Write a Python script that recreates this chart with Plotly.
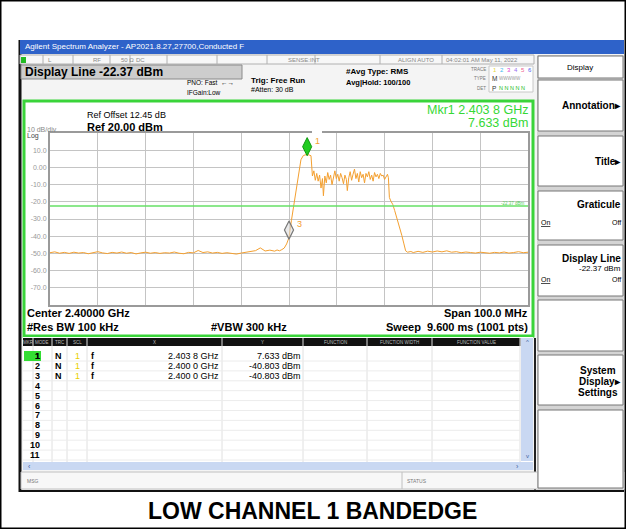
import plotly.graph_objects as go

W, H = 626, 529
FONT = "Liberation Sans, Arial, sans-serif"

# ---------------- data ----------------
freq_mhz = [2350, 2351, 2352, 2353, 2354, 2355, 2356, 2357, 2358, 2359,
            2360, 2361, 2362, 2363, 2364, 2365, 2366, 2367, 2368, 2369,
            2370, 2371, 2372, 2373, 2374, 2375, 2376, 2377, 2378, 2379,
            2380, 2381, 2382, 2383, 2384, 2385, 2386, 2387, 2388, 2389,
            2390, 2391, 2392, 2393, 2394, 2395, 2396, 2397, 2397.5, 2398,
            2398.5, 2399, 2399.5, 2400, 2400.5, 2401, 2401.5, 2402, 2402.5, 2403,
            2403.5, 2403.8, 2404.2, 2404.6, 2404.9, 2405.2, 2405.5, 2405.8, 2406.1, 2406.4,
            2406.7, 2407.0, 2407.2, 2407.5, 2407.8, 2408.1, 2408.4, 2408.7, 2409.0, 2409.3,
            2409.6, 2409.9, 2410.2, 2410.5, 2410.8, 2411.1, 2411.4, 2411.7, 2412.0, 2412.2,
            2412.5, 2412.8, 2413.1, 2413.4, 2413.7, 2414.0, 2414.3, 2414.6, 2414.9, 2415.2,
            2415.5, 2415.8, 2416.1, 2416.4, 2416.7, 2417.0, 2417.3, 2417.6, 2417.9, 2418.2,
            2418.5, 2418.8, 2419.1, 2419.4, 2419.7, 2420.0, 2420.3, 2420.6, 2420.8, 2421.0,
            2421.3, 2421.7, 2422.1, 2422.6, 2423.1, 2423.6, 2424.0, 2424.4, 2424.8, 2425.5,
            2426, 2427, 2428, 2429, 2430, 2431, 2432, 2433, 2434, 2435,
            2436, 2437, 2438, 2439, 2440, 2441, 2442, 2443, 2444, 2445,
            2446, 2447, 2448, 2449, 2450]
level_dbm = [-49.6, -49.1, -49.9, -49.4, -50.0, -49.3, -49.8, -49.5, -50.2, -49.6,
             -49.0, -49.7, -50.1, -49.4, -49.8, -49.2, -49.9, -49.5, -50.3, -49.7,
             -49.3, -49.9, -49.5, -50.0, -49.6, -49.8, -49.2, -49.9, -50.2, -49.4,
             -49.7, -48.3, -49.5, -49.1, -49.8, -49.4, -50.0, -49.6, -49.9, -50.4,
             -49.8, -49.2, -48.9, -48.4, -46.8, -48.6, -48.1, -48.7, -48.0, -48.5,
             -47.8, -46.9, -44.5, -40.8, -31.0, -22.0, -12.5, -2.5, 4.5, 6.9,
             7.3, 7.633, 7.2, 6.8, -5.0, -2.0, -7.5, -3.5, -8.0, -4.5,
             -12.0, -6.5, -16.5, -5.0, -9.0, -3.0, -7.0, -4.5, -10.0, -5.5,
             -2.0, -6.5, -4.0, -8.0, -3.5, -6.0, -9.5, -4.5, -7.0, -13.5,
             -6.0, -2.5, -7.5, -4.0, -1.0, -6.5, -3.5, -8.5, -2.5, -6.0,
             -4.0, -9.0, -3.5, -5.5, -2.5, -7.0, -4.5, -8.0, -3.0, -5.5,
             -4.0, -6.5, -3.5, -5.0, -4.5, -7.0, -5.0, -4.0, -6.0, -17.5,
             -19.5, -21.5, -25.0, -29.5, -34.0, -39.5, -44.0, -48.5, -49.3, -48.9,
             -49.5, -48.8, -49.4, -48.7, -49.2, -48.6, -49.1, -48.5, -49.3, -49.0,
             -49.6, -49.2, -49.5, -49.8, -49.3, -49.6, -49.9, -49.4, -49.7, -49.2,
             -49.8, -49.5, -49.0, -49.6, -49.3]

mkr_num = [1, 2, 3]
mkr_mode = ["N", "N", "N"]
mkr_trc = ["1", "1", "1"]
mkr_scl = ["f", "f", "f"]
mkr_freq_ghz = [2.4038, 2.4000, 2.4000]
mkr_level = [7.633, -40.803, -40.803]

display_line_dbm = -22.37
x_range_ghz = [2.35, 2.45]
y_range_dbm = [-80, 20]
y_tick_vals = [10, 0, -10, -20, -30, -40, -50, -60, -70]
y_tick_text = ["10.0", "0.00", "-10.0", "-20.0", "-30.0", "-40.0", "-50.0", "-60.0", "-70.0"]

window_title = "Agilent Spectrum Analyzer - AP2021.8.27,27700,Conducted F"
chart_caption = "LOW CHANNEL 1 BANDEDGE"

# ---------------- helpers ----------------
def px(x):
    return x / W


def py(y):
    return 1 - y / H


def ghz_str(v):
    s = "%.4f" % v
    return s[:-1] + " " + s[-1]


shapes = []
annotations = []


def rect(x0, y0, x1, y1, fill="rgba(0,0,0,0)", line="rgba(0,0,0,0)", lw=0, layer="below"):
    shapes.append(dict(type="rect", xref="paper", yref="paper",
                       x0=px(x0), x1=px(x1), y0=py(y1), y1=py(y0),
                       fillcolor=fill, line=dict(color=line, width=lw), layer=layer))


def hline(x0, x1, y, color, lw=1, layer="below"):
    shapes.append(dict(type="line", xref="paper", yref="paper",
                       x0=px(x0), x1=px(x1), y0=py(y), y1=py(y),
                       line=dict(color=color, width=lw), layer=layer))


def vline(x, y0, y1, color, lw=1, layer="below"):
    shapes.append(dict(type="line", xref="paper", yref="paper",
                       x0=px(x), x1=px(x), y0=py(y0), y1=py(y1),
                       line=dict(color=color, width=lw), layer=layer))


def txt(x, y, s, size, color="black", bold=False, anchor="left", family=FONT):
    annotations.append(dict(x=px(x), y=py(y), xref="paper", yref="paper",
                            text=("<b>%s</b>" % s) if bold else s, showarrow=False,
                            xanchor=anchor, yanchor="middle", borderpad=0,
                            font=dict(size=size, color=color, family=family)))


# ---------------- frame / window ----------------
rect(0, 0, W, H, fill="white", line="black", lw=3)
rect(20, 40, 624, 492, fill="#f4f4f4")
vline(20, 40, 492, "#111", 3)
hline(20, 624, 491, "#111", 2)
# title bar
rect(20, 40, 624, 54, fill="#2e62c9")
txt(24, 47, window_title, 8, color="white")
# status row
rect(20, 55, 534, 64, fill="#f7f7f7", line="#b0b0b0", lw=1)
rect(21, 57, 26, 63, fill="#22bb22")
for xd in [43, 73, 110, 130, 167, 217, 267, 315, 380, 442]:
    vline(xd, 55, 64, "#b0b0b0")
for xs, s in [(47, "L"), (92, "RF"), (120, "50 Ω"), (135, "DC"), (287, "SENSE:INT"),
              (397, "ALIGN AUTO"), (445, "04:02:01 AM May 11, 2022")]:
    txt(xs, 60, s, 6, color="#888")
# header info
rect(21, 65, 242, 79, fill="#cdcdcd", line="#8a8a8a", lw=1)
txt(24, 72, "Display Line %.2f dBm" % display_line_dbm, 12, bold=True)
txt(186, 83, "PNO: Fast  ←→", 6.5)
txt(186, 92, "IFGain:Low", 6.5)
txt(250, 80, "Trig: Free Run", 8, bold=True)
txt(250, 90, "#Atten: 30 dB", 7)
txt(345, 72, "#Avg Type: RMS", 8, bold=True)
txt(345, 82, "Avg|Hold: 100/100", 7.5, bold=True)
txt(487, 70, "TRACE", 4.5, color="#777", anchor="right")
txt(487, 79, "TYPE", 4.5, color="#777", anchor="right")
txt(487, 88, "DET", 4.5, color="#777", anchor="right")
rect(489, 66, 533, 92, fill="white", line="#c8c8c8", lw=1)
trace_cols = ["#e8d840", "#40b8f0", "#e040d0", "#9a70f0", "#f06090", "#5060f0"]
for i, c in enumerate(trace_cols):
    txt(492 + i * 7, 70, str(i + 1), 6, color=c)
txt(491, 79, "M", 6.5, color="#333")
txt(498, 79, "WWWWW", 4.5, color="#999")
txt(491, 88, "P", 6.5, color="#333")
txt(498, 88, "N N N N N", 5.5, color="#22bb22")

# ---------------- graph frame ----------------
rect(24, 101, 533, 336, fill="white", line="#3ad43a", lw=3)
txt(529, 110, "Mkr1 %s GHz" % ghz_str(mkr_freq_ghz[0]), 12.5,
    color="#35d835", anchor="right")
txt(529, 123, "%.3f dBm" % mkr_level[0], 12.5, color="#35d835", anchor="right")
txt(86, 115, "Ref Offset 12.45 dB", 9)
txt(86, 127, "Ref %.2f dBm" % y_range_dbm[1], 11, bold=True)
txt(26, 129, "10 dB/div", 7, color="#888")
txt(26, 136, "Log", 7, color="#444")
txt(26, 313, "Center %.5f GHz" % (sum(x_range_ghz) / 2), 11, bold=True)
txt(26, 327, "#Res BW 100 kHz", 11, bold=True)
txt(210, 327, "#VBW 300 kHz", 11, bold=True)
txt(529, 313, "Span %.1f MHz" % ((x_range_ghz[1] - x_range_ghz[0]) * 1000), 11, bold=True, anchor="right")
txt(529, 327, "Sweep  9.600 ms (1001 pts)", 11, bold=True, anchor="right")
txt(526, 203, "%.2f dBm" % display_line_dbm, 4.5, color="#55cc55", anchor="right")

# ---------------- marker table ----------------
rect(23, 337, 533, 470, fill="white")
rect(23, 338, 520, 346, fill="#111")
cols = [(23, 33, "MKR"), (33, 52, "MODE"), (52, 67, "TRC"), (67, 87, "SCL"), (87, 222, "X"),
        (222, 303, "Y"), (303, 367, "FUNCTION"), (367, 432, "FUNCTION WIDTH"), (432, 520, "FUNCTION VALUE")]
for x0, x1, s in cols:
    vline(x1, 338, 462, "#e0e0e0")
    vline(x1, 338, 346, "#777")
    txt((x0 + x1) / 2, 342, s, 4.5, color="#bbb", anchor="center")
for r in range(11):
    yc = 356 + r * 9.9
    hline(23, 520, yc + 5, "#ececec")
    txt(41, yc, str(r + 1), 9, bold=True, anchor="right")
rect(24, 351, 41, 361, fill="#33dd33")
txt(41, 356, "1", 9, bold=True, anchor="right")
for i in range(len(mkr_num)):
    yc = 356 + i * 9.9
    txt(58, yc, mkr_mode[i], 9, bold=True, anchor="center")
    txt(77, yc, mkr_trc[i], 9, color="#e8d000", anchor="center")
    txt(93, yc, mkr_scl[i], 9, bold=True, anchor="center")
    txt(220, yc, ghz_str(mkr_freq_ghz[i]) + " GHz", 9, anchor="right")
    txt(302, yc, "%.3f dBm" % mkr_level[i], 9, anchor="right")
# scroll bars
rect(521, 338, 533, 461, fill="#c9d8f2")
txt(527, 342, "^", 6, color="#4060a0", anchor="center")
txt(527, 456, "v", 6, color="#4060a0", anchor="center")
rect(23, 462, 533, 470, fill="#c9d8f2")
txt(27, 466, "‹", 7, color="#4060a0")
txt(515, 466, "›", 7, color="#4060a0")
vline(535, 338, 490, "#222", 2)
# message row
rect(21, 472, 624, 489, fill="#f7f7f7", line="#c0c0c0", lw=1)
vline(402, 472, 489, "#c0c0c0")
txt(26, 481, "MSG", 5, color="#777")
txt(406, 481, "STATUS", 5, color="#777")

# ---------------- soft keys ----------------
rect(537, 55, 624, 490, fill="#d4d4d4")
buttons = [(56, 78, [("Display", 8, False)]),
           (80, 131, [("Annotation▸", 10, True)]),
           (136, 186, [("Title▸", 10, True)]),
           (191, 240, [("Graticule", 10, True)]),
           (245, 296, [("Display Line", 10, True), ("%.2f dBm" % display_line_dbm, 8, False)]),
           (300, 351, []),
           (355, 405, [("System", 10, True), ("Display▸", 10, True), ("Settings", 10, True)]),
           (410, 488, [])]
for y0, y1, lines in buttons:
    rect(538, y0, 623, y1, fill="white", line="#777", lw=1)
    if y0 == 56:
        txt(580, 67, lines[0][0], 8, anchor="center")
        continue
    if len(lines) == 1:
        ys = [(y0 + y1) / 2]
    elif len(lines) == 2:
        ys = [y0 + 13, y0 + 23]
    else:
        ys = [y0 + 15, y0 + 26, y0 + 37]
    if y0 == 191:
        ys = [y0 + 14]
    for (s, fsz, b), yy in zip(lines, ys):
        if s == "System" or s == "Settings":
            txt(598, yy, s, fsz, bold=b, anchor="center")
        else:
            txt(622, yy, s, fsz, bold=b, anchor="right")
for yy in [222, 279]:
    txt(540, yy, "<u>On</u>", 7)
    txt(622, yy, "Off", 7, anchor="right")

# caption
txt(312, 511, chart_caption, 23, bold=True, anchor="center")

# ---------------- chart ----------------
freq_ghz = [f / 1000.0 for f in freq_mhz]
fig = go.Figure()
fig.add_trace(go.Scatter(x=freq_ghz, y=level_dbm, mode="lines",
                         line=dict(color="#f4a030", width=1), hoverinfo="skip"))
fig.add_trace(go.Scatter(x=x_range_ghz, y=[display_line_dbm] * 2, mode="lines",
                         line=dict(color="#66e066", width=1.5), hoverinfo="skip"))
mk_y = [v + 4.4 for v in mkr_level]
fig.add_trace(go.Scatter(x=[mkr_freq_ghz[2]], y=[mk_y[2]], mode="markers",
                         marker=dict(symbol="diamond-tall", size=13, color="rgba(220,220,220,0.6)",
                                     line=dict(color="#777", width=1.2))))
fig.add_trace(go.Scatter(x=[mkr_freq_ghz[0]], y=[mk_y[0]], mode="markers",
                         marker=dict(symbol="diamond-tall", size=13, color="#22cc22",
                                     line=dict(color="#119911", width=1))))
for i in [0, 2]:
    annotations.append(dict(x=mkr_freq_ghz[i], y=mk_y[i], xref="x", yref="y",
                            text=str(mkr_num[i]), showarrow=False, xshift=10, yshift=6,
                            font=dict(size=9, color="#f4a030", family=FONT)))

# small break in the top border at marker 1
rect(312, 131, 322, 135, fill="white", layer="above")

fig.update_layout(
    width=W, height=H, margin=dict(l=0, r=0, t=0, b=0),
    paper_bgcolor="white", plot_bgcolor="rgba(0,0,0,0)",
    showlegend=False, shapes=shapes, annotations=annotations,
    xaxis=dict(domain=[px(50), px(528)], range=x_range_ghz, dtick=0.01, tick0=2.35,
               showgrid=True, gridcolor="#c4c4c4", gridwidth=1, showticklabels=False,
               ticks="", zeroline=False, showline=True, linecolor="#9a9a9a", linewidth=2,
               mirror=True, fixedrange=True),
    yaxis=dict(domain=[py(305), py(133)], range=y_range_dbm, tickvals=y_tick_vals,
               ticktext=y_tick_text, tickfont=dict(size=7, color="#999", family=FONT),
               showgrid=True, gridcolor="#c4c4c4", gridwidth=1, ticks="", zeroline=False,
               showline=True, linecolor="#9a9a9a", linewidth=2, mirror=True, fixedrange=True),
)

fig.write_html("out.html", config={"displayModeBar": False},
               post_script="document.body.style.margin='0';document.body.style.overflow='hidden';")
